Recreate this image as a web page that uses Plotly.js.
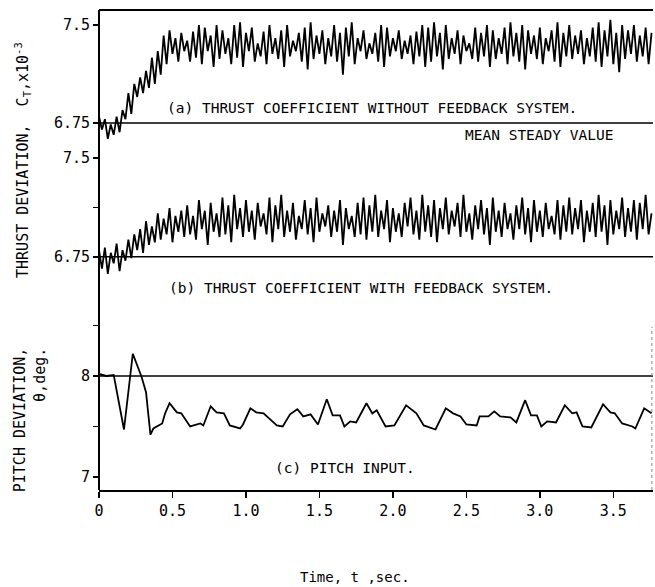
<!DOCTYPE html>
<html>
<head>
<meta charset="utf-8">
<script src="https://cdn.plot.ly/plotly-3.0.1.min.js"></script>
<style>html,body{margin:0;padding:0;background:#fff;}#chart{width:655px;height:587px;}</style>
</head>
<body>
<div id="chart"></div>
<script>
// ---- data ----
var timeStep = 0.02; // sampling of thrust traces, sec
var thrustNoFeedback = [
 6.80,6.70,6.78,6.63,6.74,6.66,6.80,6.68,6.85,6.78,
 6.98,6.82,7.05,6.95,7.10,6.98,7.15,7.02,7.25,7.05,
 7.30,7.12,7.42,7.20,7.46,7.28,7.40,7.22,7.44,7.30,
 7.38,7.22,7.45,7.25,7.50,7.20,7.48,7.30,7.42,7.18,
 7.50,7.24,7.46,7.28,7.40,7.20,7.50,7.25,7.52,7.18,
 7.44,7.30,7.48,7.22,7.36,7.26,7.45,7.20,7.50,7.28,
 7.40,7.24,7.46,7.18,7.50,7.26,7.38,7.30,7.44,7.22,
 7.48,7.16,7.52,7.24,7.42,7.28,7.46,7.20,7.40,7.26,
 7.50,7.22,7.44,7.12,7.48,7.26,7.52,7.20,7.40,7.30,
 7.46,7.24,7.36,7.28,7.44,7.22,7.50,7.18,7.48,7.26,
 7.40,7.30,7.46,7.24,7.38,7.28,7.42,7.20,7.45,7.26,
 7.50,7.18,7.48,7.22,7.52,7.26,7.44,7.16,7.50,7.24,
 7.40,7.28,7.46,7.20,7.42,7.30,7.36,7.24,7.48,7.22,
 7.44,7.26,7.50,7.18,7.46,7.24,7.40,7.28,7.48,7.20,
 7.52,7.26,7.44,7.22,7.50,7.16,7.46,7.28,7.42,7.24,
 7.48,7.20,7.40,7.30,7.46,7.22,7.52,7.18,7.44,7.26,
 7.50,7.24,7.42,7.28,7.46,7.20,7.40,7.26,7.48,7.22,
 7.52,7.18,7.46,7.26,7.54,7.20,7.44,7.14,7.50,7.24,
 7.46,7.28,7.50,7.22,7.42,7.26,7.48,7.20,7.44
];
var thrustFeedback = [
 6.80,6.66,6.82,6.62,6.78,6.70,6.85,6.64,6.80,6.72,
 6.88,6.74,6.92,6.80,6.96,6.78,7.02,6.84,6.98,6.86,
 7.08,6.88,7.04,6.92,7.12,6.86,7.06,6.94,7.10,6.90,
 7.14,6.92,7.06,6.88,7.18,6.96,7.10,6.84,7.16,6.94,
 7.08,6.90,7.20,6.92,7.14,6.86,7.22,6.96,7.12,6.90,
 7.18,6.94,7.10,6.88,7.16,6.98,7.08,6.92,7.20,6.86,
 7.14,6.96,7.22,6.90,7.10,6.94,7.16,6.88,7.06,6.96,
 7.18,6.92,7.12,6.86,7.20,6.94,7.08,6.98,7.14,6.90,
 7.10,6.94,7.18,6.84,7.12,6.96,7.06,6.90,7.16,6.92,
 7.20,6.88,7.14,6.94,7.22,6.90,7.10,6.96,7.18,6.86,
 7.12,6.94,7.08,6.90,7.16,6.98,7.20,6.92,7.10,6.88,
 7.22,6.94,7.14,6.90,7.18,6.86,7.12,6.96,7.20,6.92,
 7.10,6.98,7.16,6.90,7.22,6.94,7.08,6.88,7.14,6.96,
 7.18,6.92,7.12,6.84,7.20,6.94,7.10,6.90,7.16,6.96,
 7.08,6.88,7.14,6.96,7.20,6.92,7.12,6.86,7.18,6.94,
 7.10,6.90,7.16,6.96,7.06,6.92,7.18,6.88,7.14,6.94,
 7.20,6.92,7.12,6.96,7.18,6.86,7.10,6.94,7.16,6.90,
 7.22,6.94,7.14,6.84,7.18,6.92,7.10,6.96,7.20,6.90,
 7.12,6.94,7.18,6.88,7.16,6.96,7.22,6.92,7.08
];
var pitchTime = [0,0.05,0.10,0.17,0.23,0.29,0.32,0.35,0.37,0.43,0.45,0.48,0.53,0.56,0.62,0.69,0.71,0.76,0.80,0.85,0.89,0.96,0.98,1.03,1.07,1.12,1.21,1.25,1.30,1.35,1.39,1.44,1.49,1.55,1.59,1.64,1.67,1.71,1.75,1.82,1.86,1.89,1.95,2.01,2.09,2.16,2.21,2.29,2.36,2.41,2.46,2.50,2.57,2.59,2.65,2.69,2.73,2.80,2.84,2.90,2.94,2.98,3.01,3.05,3.11,3.17,3.22,3.25,3.29,3.35,3.43,3.48,3.51,3.56,3.63,3.65,3.71,3.76];
var pitchDeg = [8.02,8.00,8.01,7.47,8.22,7.99,7.84,7.42,7.48,7.53,7.63,7.73,7.64,7.63,7.50,7.53,7.51,7.70,7.64,7.63,7.51,7.48,7.52,7.68,7.64,7.63,7.51,7.50,7.62,7.67,7.60,7.62,7.52,7.77,7.61,7.61,7.50,7.55,7.54,7.73,7.63,7.66,7.50,7.51,7.71,7.63,7.51,7.47,7.68,7.63,7.60,7.52,7.51,7.60,7.60,7.65,7.60,7.59,7.54,7.76,7.61,7.61,7.50,7.55,7.54,7.71,7.63,7.64,7.50,7.49,7.72,7.64,7.63,7.53,7.50,7.48,7.68,7.63];
var meanSteadyThrust = 6.75;
var pitchReference = 8;
var xTicks = [0,0.5,1.0,1.5,2.0,2.5,3.0,3.5];
var xTickLabels = ['0','0.5','1.0','1.5','2.0','2.5','3.0','3.5'];
var labelA = '(a) THRUST COEFFICIENT WITHOUT FEEDBACK SYSTEM.';
var labelB = '(b) THRUST COEFFICIENT WITH FEEDBACK SYSTEM.';
var labelC = '(c) PITCH INPUT.';
var labelMean = 'MEAN STEADY VALUE';

// ---- build ----
function timeGrid(n){ var t=[]; for(var i=0;i<n;i++){ t.push(+(i*timeStep).toFixed(3)); } return t; }
var tA = timeGrid(thrustNoFeedback.length);
var tB = timeGrid(thrustFeedback.length);
var xMax = 3.77;

var F = 'DejaVu Sans Mono, monospace';
var traces = [
  {x:tA, y:thrustNoFeedback, yaxis:'y', type:'scatter', mode:'lines', line:{color:'#000', width:1.8}, hoverinfo:'skip'},
  {x:tB, y:thrustFeedback, yaxis:'y2', type:'scatter', mode:'lines', line:{color:'#000', width:1.8}, hoverinfo:'skip'},
  {x:pitchTime, y:pitchDeg, yaxis:'y3', type:'scatter', mode:'lines', line:{color:'#000', width:1.8}, hoverinfo:'skip'},
  {x:[0,xMax], y:[meanSteadyThrust,meanSteadyThrust], yaxis:'y', mode:'lines', line:{color:'#000', width:1.5}, hoverinfo:'skip'},
  {x:[0,xMax], y:[meanSteadyThrust,meanSteadyThrust], yaxis:'y2', mode:'lines', line:{color:'#000', width:1.5}, hoverinfo:'skip'},
  {x:[0,xMax], y:[pitchReference,pitchReference], yaxis:'y3', mode:'lines', line:{color:'#000', width:1.5}, hoverinfo:'skip'}
];

var yCommon = {showgrid:false, zeroline:false, showline:false, ticks:'outside', ticklen:5, tickwidth:1.5, tickcolor:'#000',
  tickfont:{family:F, size:15, color:'#000'}, fixedrange:true};
var minorTicks = function(vals){ return {tickmode:'array', tickvals:vals, ticks:'outside', ticklen:5, tickwidth:1.5, tickcolor:'#000', showgrid:false}; };

var layout = {
  width:655, height:587,
  margin:{l:99, r:2, t:10, b:97},
  paper_bgcolor:'#fff', plot_bgcolor:'#fff',
  showlegend:false,
  xaxis:{anchor:'y3', range:[0,xMax], showgrid:false, zeroline:false, showline:true, linecolor:'#000', linewidth:2,
    ticks:'outside', ticklen:6, tickwidth:1.5, tickcolor:'#000', tickmode:'array', tickvals:xTicks, ticktext:xTickLabels,
    tickfont:{family:F, size:15, color:'#000'}},
  yaxis: Object.assign({}, yCommon, {anchor:'x', domain:[0.7083,1], range:[6.544,7.615], tickmode:'array', tickvals:[6.75,7.5], ticktext:['6.75','7.5']}),
  yaxis2: Object.assign({}, yCommon, {anchor:'x', domain:[0.4167,0.7188], range:[6.4975,7.5995], tickmode:'array', tickvals:[6.75,7.5], ticktext:['6.75','7.5'], minor:minorTicks([7.125])}),
  yaxis3: Object.assign({}, yCommon, {anchor:'x', domain:[0,0.3958], range:[6.871,8.752], tickmode:'array', tickvals:[7,8], ticktext:['7','8'], minor:minorTicks([7.5,8.5])}),
  shapes:[
    {type:'line', xref:'paper', yref:'paper', x0:0, x1:0, y0:0, y1:1, line:{color:'#000', width:2}},
    {type:'line', xref:'paper', yref:'paper', x0:0, x1:1, y0:1, y1:1, line:{color:'#000', width:2}},
    {type:'line', xref:'paper', yref:'paper', x0:0.998, x1:0.998, y0:0, y1:0.34, line:{color:'#888', width:1, dash:'dot'}}
  ],
  annotations:[
    {text:labelA, xref:'paper', yref:'paper', x:0.119, y:0.7958, xanchor:'left', yanchor:'middle', showarrow:false, font:{family:F, size:14.5, color:'#000'}},
    {text:labelMean, xref:'paper', yref:'paper', x:0.657, y:0.7396, xanchor:'left', yanchor:'middle', showarrow:false, font:{family:F, size:14.5, color:'#000'}},
    {text:labelB, xref:'paper', yref:'paper', x:0.1227, y:0.4208, xanchor:'left', yanchor:'middle', showarrow:false, font:{family:F, size:14.5, color:'#000'}},
    {text:labelC, xref:'paper', yref:'paper', x:0.314, y:0.0458, xanchor:'left', yanchor:'middle', showarrow:false, font:{family:F, size:14.5, color:'#000'}},
    {text:'THRUST DEVIATION,  C<sub>T</sub>,x10<sup>-3</sup>', xref:'paper', yref:'paper', x:-0.139, y:0.6875, xanchor:'center', yanchor:'middle', textangle:-90, showarrow:false, font:{family:F, size:15, color:'#000'}},
    {text:'PITCH DEVIATION,<br>θ,deg.', xref:'paper', yref:'paper', x:-0.124, y:0.146, xanchor:'center', yanchor:'middle', textangle:-90, align:'right', showarrow:false, font:{family:F, size:15, color:'#000'}},
    {text:'Time, t ,sec.', xref:'paper', yref:'paper', x:0.462, y:-0.181, xanchor:'center', yanchor:'middle', showarrow:false, font:{family:F, size:14, color:'#000'}}
  ]
};

Plotly.newPlot('chart', traces, layout, {staticPlot:true, displayModeBar:false});
</script>
</body>
</html>
